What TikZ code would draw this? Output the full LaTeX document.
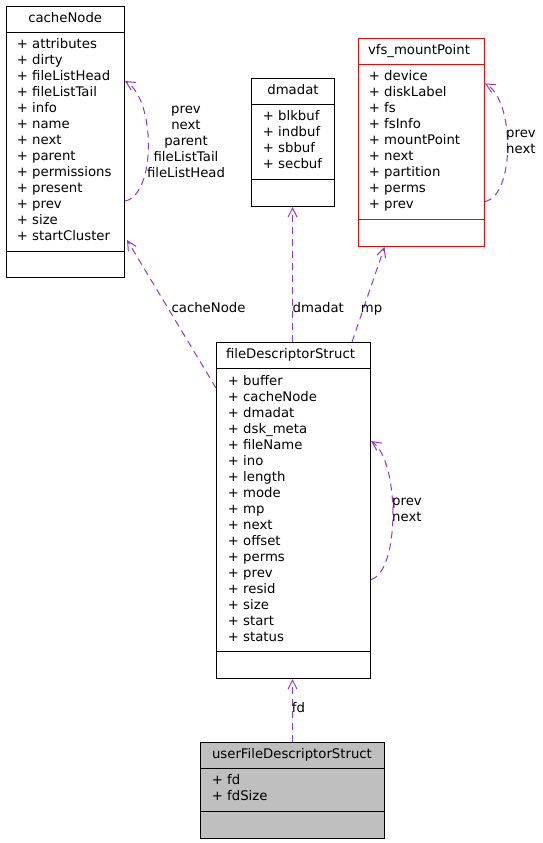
\documentclass[tikz,border=0pt]{standalone}
\usepackage{fontspec}
\setmainfont{DejaVu Sans}
\usetikzlibrary{arrows.meta}
\definecolor{edgec}{HTML}{9A32CD}
\definecolor{boxgray}{HTML}{BFBFBF}
\begin{document}
\begin{tikzpicture}[x=1bp,y=-1bp,
  every node/.style={font=\fontsize{13.3}{16.05}\selectfont, inner sep=0bp},
  classbox/.style={draw=black, line width=1bp, fill=white, anchor=north west, rectangle},
  sepline/.style={draw=black, line width=1bp},
  item/.style={anchor=west, text height=9.5bp, text depth=2.5bp},
  ttl/.style={text height=9.5bp, text depth=2.5bp},
  elabel/.style={text height=9.5bp, text depth=2.5bp},
  rel/.style={draw=edgec, line width=1bp, dash pattern=on 7bp off 5bp,
    -{Straight Barb[length=9bp,width=9bp]}}]
\useasboundingbox (0,0) rectangle (543,843);

% class boxes
\node[classbox, minimum width=118bp, minimum height=271bp] (cn) at (6,6) {};
\node[classbox, minimum width=83bp, minimum height=128bp] (dm) at (251,78) {};
\node[classbox, draw=red, minimum width=126bp, minimum height=208bp] (vfs) at (358,38) {};
\node[classbox, minimum width=154bp, minimum height=336bp] (fds) at (216,342) {};
\node[classbox, fill=boxgray, minimum width=184bp, minimum height=96bp] (ufd) at (200,742) {};

% separators
\draw[sepline] (6.5,32.5) -- (124.5,32.5);
\draw[sepline] (6.5,251.5) -- (124.5,251.5);
\draw[sepline] (251.5,104.5) -- (334.5,104.5);
\draw[sepline] (251.5,179.5) -- (334.5,179.5);
\draw[sepline, draw=red] (358.5,64.5) -- (484.5,64.5);
\draw[sepline, draw=red] (358.5,219.5) -- (484.5,219.5);
\draw[sepline] (216.5,368.5) -- (370.5,368.5);
\draw[sepline] (216.5,651.5) -- (370.5,651.5);
\draw[sepline] (200.5,768.5) -- (384.5,768.5);
\draw[sepline] (200.5,811.5) -- (384.5,811.5);

% titles
\node[ttl] (cnT) at (65.2,18.5) {cacheNode};
\node[ttl] (dmT) at (293,90.7) {dmadat};
\node[ttl] (vfsT) at (419,50.7) {vfs\_mountPoint};
\node[ttl] (fdsT) at (290.5,354.5) {fileDescriptorStruct};
\node[ttl] (ufdT) at (292,754.5) {userFileDescriptorStruct};

% attributes
\foreach \t [count=\i] in {attributes,dirty,fileListHead,fileListTail,info,name,next,parent,permissions,present,prev,size,startCluster}
  \node[item] (cn-\i) at (16.7,{45+16*(\i-1)}) {+ \t};
\foreach \t [count=\i] in {blkbuf,indbuf,sbbuf,secbuf}
  \node[item] (dm-\i) at (262.7,{117.3+16*(\i-1)}) {+ \t};
\foreach \t [count=\i] in {device,diskLabel,fs,fsInfo,mountPoint,next,partition,perms,prev}
  \node[item] (vfs-\i) at (368.7,{77.3+16*(\i-1)}) {+ \t};
\foreach \t [count=\i] in {buffer,cacheNode,dmadat,dsk\_meta,fileName,ino,length,mode,mp,next,offset,perms,prev,resid,size,start,status}
  \node[item] (fds-\i) at (227.7,{381.7+16*(\i-1)}) {+ \t};
\foreach \t [count=\i] in {fd,fdSize}
  \node[item] (ufd-\i) at (211.7,{781+16*(\i-1)}) {+ \t};

% relations
\draw[rel] ([yshift=-46bp]fds.north west) -- ([xshift=2bp,yshift=38bp]cn.south east);
\draw[rel] ([xshift=-0.5bp]dm.south |- fds.north) -- ([xshift=-0.5bp]dm.south);
\draw[rel] ([xshift=58.5bp]fds.north) -- ([xshift=-37bp]vfs.south);
\draw[rel] ([xshift=-1bp]fds.south |- ufd.north) -- ([xshift=-1bp]fds.south);

% self loops
\draw[rel] ([yshift=-195bp]cn.north east) .. controls +(31,-6) and +(31,19) .. ([yshift=-75bp]cn.north east);
\draw[rel] ([yshift=-163.5bp]vfs.north east) .. controls +(30,-6) and +(30,17) .. ([yshift=-45.5bp]vfs.north east);
\draw[rel] ([yshift=-237.5bp]fds.north east) .. controls +(29,-8) and +(29,20) .. ([yshift=-99bp]fds.north east);

% edge labels
\node[align=center] (cnLoop) at (186,142) {prev\\next\\parent\\fileListTail\\fileListHead};
\node[anchor=west, align=left] (vfsLoop) at (506,142) {prev\\next};
\node[anchor=west, align=left] (fdsLoop) at (392,510) {prev\\next};
\node[elabel] (cnLab) at (208.5,309) {cacheNode};
\node[elabel, anchor=west] (dmLab) at (292.5,309) {dmadat};
\node[elabel] (mpLab) at (371.5,309) {mp};
\node[elabel, anchor=west] (fdLab) at (291.7,709) {fd};
\end{tikzpicture}
\end{document}
